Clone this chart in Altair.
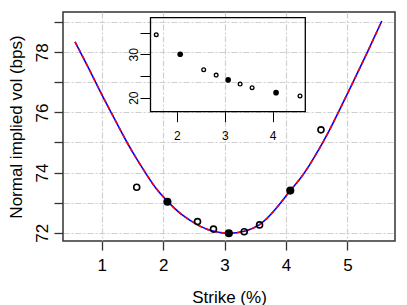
import altair as alt
import pandas as pd

# ---- data ----
strikes = [1.57, 2.07, 2.56, 2.82, 3.07, 3.32, 3.57, 4.07, 4.57]
market_vols = [73.51, 73.03, 72.37, 72.12, 71.98, 72.03, 72.26, 73.40, 75.42]
inset_values = [34.5, 30.0, 26.45, 25.2, 24.1, 23.15, 22.3, 21.15, 20.4]
calibrated = [False, True, False, False, True, False, False, True, False]

curve_strikes = [0.565, 0.78, 1.00, 1.20, 1.40, 1.55, 1.70, 1.88, 2.07, 2.30, 2.60, 2.82,
                 3.07, 3.32, 3.57, 3.82, 4.07, 4.22, 4.38, 4.53, 4.68, 4.88, 5.08, 5.32, 5.56]
curve_vols = [78.35, 77.50, 76.60, 75.82, 75.05, 74.52, 74.03, 73.49, 73.05, 72.61, 72.22, 72.05,
              71.98, 72.05, 72.27, 72.76, 73.40, 73.77, 74.24, 74.75, 75.30, 76.12, 76.96, 77.98, 79.04]

main_x_ticks = [1, 2, 3, 4, 5]
main_y_ticks = [72, 73, 74, 75, 76, 77, 78, 79]
inset_x_ticks = [2, 3, 4]
inset_y_ticks = [20, 25, 30, 35]

main_x_domain = [0.37, 5.775]
main_y_domain = [71.724, 79.34]
inset_x_domain = [1.45, 4.68]
inset_y_domain = [16.77, 38.43]

# ---- layout ----
W, H = 332, 229
FONT = "Liberation Sans"
GRID = "#cfcfcf"
FRAME = "#333333"

curve_df = pd.DataFrame({"strike": curve_strikes, "vol": curve_vols})
pts_df = pd.DataFrame({"strike": strikes, "vol": market_vols,
                       "inset": inset_values, "calibrated": calibrated})
box_df = pd.DataFrame({"x0": [inset_x_domain[0]], "x1": [inset_x_domain[1]],
                       "y0": [inset_y_domain[0]], "y1": [inset_y_domain[1]]})

x_axis = alt.Axis(values=main_x_ticks, title="Strike (%)", grid=True, gridColor=GRID,
                  gridDash=[6, 2, 2, 2], gridWidth=1.2, domain=False, tickSize=9,
                  tickColor=FRAME, tickWidth=1.3, labelFontSize=17, labelFont=FONT,
                  labelColor="black", labelBaseline="alphabetic", labelPadding=20,
                  labelFlush=False, titleFontSize=17, titleFont=FONT, titleFontWeight="normal",
                  titleColor="black", titleX=W / 2, titleY=61, titleBaseline="alphabetic",
                  titleAlign="center")
y_axis = alt.Axis(values=main_y_ticks, title="Normal implied vol (bps)", grid=True,
                  gridColor=GRID, gridDash=[6, 2, 2, 2], gridWidth=1.2, domain=False,
                  tickSize=9, tickColor=FRAME, tickWidth=1.3, labelFontSize=17,
                  labelFont=FONT, labelColor="black", labelAngle=270, labelAlign="center",
                  labelBaseline="alphabetic", labelPadding=6.7, labelFlush=False,
                  labelExpr="datum.value % 2 == 0 ? datum.label : ''",
                  titleFontSize=17, titleFont=FONT, titleFontWeight="normal",
                  titleColor="black", titleAngle=270, titleX=-42, titleY=H / 2,
                  titleBaseline="alphabetic", titleAlign="center")

xs = alt.Scale(domain=main_x_domain, nice=False, zero=False)
ys = alt.Scale(domain=main_y_domain, nice=False, zero=False)

X = alt.X("strike:Q", scale=xs, axis=x_axis)
Y = alt.Y("vol:Q", scale=ys, axis=y_axis)

line_blue = alt.Chart(curve_df).mark_line(color="#0000ff", strokeWidth=1.6,
                                          interpolate="natural").encode(x=X, y=Y)
line_red = alt.Chart(curve_df).mark_line(color="#ff0000", strokeWidth=1.6,
                                         strokeDash=[4, 4], interpolate="natural").encode(x=X, y=Y)
hollow = alt.Chart(pts_df).transform_filter("!datum.calibrated").mark_point(
    shape="circle", filled=False, color="black", size=36, strokeWidth=1.6, opacity=1
).encode(x=X, y=Y)
filled = alt.Chart(pts_df).transform_filter("datum.calibrated").mark_circle(
    color="black", size=66, opacity=1).encode(x=X, y=Y)

main = alt.layer(line_blue, line_red, hollow, filled)

# ---- inset ----
in_left = 150.5 - 63
in_right = 305.3 - 63
in_top = 17.7 - 12
in_bottom = 111.7 - 12

ixs = alt.Scale(domain=inset_x_domain, range=[in_left, in_right], nice=False, zero=False)
iys = alt.Scale(domain=inset_y_domain, range=[in_bottom, in_top], nice=False, zero=False)
ix_axis = alt.Axis(orient="bottom", offset=-(H - in_bottom), values=inset_x_ticks, grid=False,
                   domain=False, tickSize=10, tickColor="black", tickWidth=1,
                   labelFontSize=12, labelFont=FONT, labelColor="black",
                   labelBaseline="alphabetic", labelPadding=17.6, labelFlush=False, title="")
iy_axis = alt.Axis(orient="left", offset=-in_left, values=inset_y_ticks, grid=False,
                   domain=False, tickSize=10.5, tickColor="black", tickWidth=1,
                   labelFontSize=12, labelFont=FONT, labelColor="black", labelAngle=270,
                   labelAlign="center", labelBaseline="alphabetic", labelPadding=2.8,
                   labelFlush=False, labelExpr="datum.value % 10 == 0 ? datum.label : ''",
                   title="")

box = alt.Chart(box_df).mark_rect(fillOpacity=0, stroke="black", strokeWidth=1.3).encode(
    x=alt.X("x0:Q", scale=ixs, axis=ix_axis), x2="x1",
    y=alt.Y("y0:Q", scale=iys, axis=iy_axis), y2="y1")
ihollow = alt.Chart(pts_df).transform_filter("!datum.calibrated").mark_point(
    shape="circle", filled=False, color="black", size=14, strokeWidth=1.3, opacity=1
).encode(x=alt.X("strike:Q", scale=ixs, axis=ix_axis),
         y=alt.Y("inset:Q", scale=iys, axis=iy_axis))
ifilled = alt.Chart(pts_df).transform_filter("datum.calibrated").mark_circle(
    color="black", size=32, opacity=1
).encode(x=alt.X("strike:Q", scale=ixs, axis=ix_axis),
         y=alt.Y("inset:Q", scale=iys, axis=iy_axis))

inset = alt.layer(box, ihollow, ifilled)

chart = alt.layer(main, inset).resolve_scale(x="independent", y="independent").properties(
    width=W, height=H,
    autosize=alt.AutoSizeParams(type="none"),
    padding={"left": 55, "top": 4, "right": 4, "bottom": 64},
    background="white",
).configure_view(stroke=FRAME, strokeWidth=1.5)

chart.save("out.html", embed_options={"renderer": "svg", "actions": False})
